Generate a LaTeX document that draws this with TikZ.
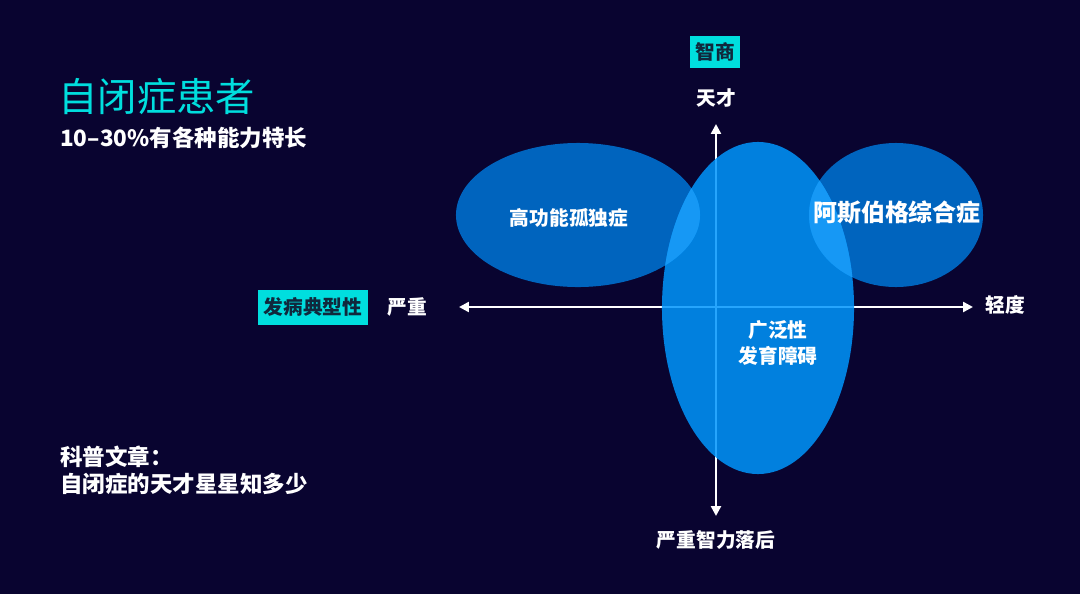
\documentclass[tikz,border=0pt]{standalone}
\usepackage{fontspec}
\setmainfont{Noto Sans CJK SC}
\usetikzlibrary{shapes.geometric, arrows.meta, positioning}
\definecolor{bgnavy}{RGB}{9,4,48}
\definecolor{aqua}{RGB}{0,222,222}
\definecolor{tagtext}{RGB}{16,40,60}
\definecolor{sideblue}{RGB}{0,100,190}
\definecolor{midblue}{RGB}{0,150,253}
\definecolor{overlapblue}{RGB}{22,152,245}

\begin{document}
\begin{tikzpicture}[
    x=0.025cm, y=-0.025cm,
    blob/.style={ellipse, fill=#1, inner sep=0pt, outer sep=0pt},
    tag/.style={rectangle, fill=aqua, text=tagtext, inner sep=0pt,
        font=\fontsize{14}{17}\selectfont\bfseries},
    axlabel/.style={text=white, inner sep=0pt, font=\fontsize{14}{17}\selectfont\bfseries},
    axis/.style={{Triangle[length=7pt,width=7pt]}-{Triangle[length=7pt,width=7pt]},
        white, line width=1.7pt},
]

% Background
\fill[bgnavy] (0,0) rectangle (1080,594);

% Title block
\node[anchor=west, inner sep=0pt, text=aqua, font=\fontsize{28}{32}\selectfont] (title) at (58,97) {自闭症患者};
\node[anchor=west, inner sep=0pt, text=white, font=\fontsize{16}{19}\selectfont\bfseries] (subtitle) at (60,138) {10--30\%有各种能力特长};

% Axes
\coordinate (ytop) at (716,124);
\coordinate (ybot) at (716,516);
\coordinate (xleft) at (459,307);
\coordinate (xright) at (973,307);
\draw[axis] (ybot) -- (ytop);
\draw[axis] (xleft) -- (xright);

% Ellipses
\node[blob=sideblue, minimum width=6.1cm, minimum height=3.6cm] (hfa) at (578,215) {};
\node[blob=sideblue, minimum width=4.35cm, minimum height=3.6cm] (asp) at (896,215) {};
\node[blob=midblue, fill opacity=0.85, minimum width=4.8cm, minimum height=8.3cm] (pdd) at (758,308) {};

% Overlaps
\begin{scope}
  \clip (pdd.center) ellipse [x radius=96, y radius=166];
  \fill[overlapblue] (hfa.center) ellipse [x radius=122, y radius=72];
  \fill[overlapblue] (asp.center) ellipse [x radius=87, y radius=72];
\end{scope}

% Ellipse labels
\node[axlabel] (hfatext) at (569,218) {高功能孤独症};
\node[axlabel, font=\fontsize{17}{20}\selectfont\bfseries] (asptext) at (897,213) {阿斯伯格综合症};
\node[axlabel, align=center, font=\fontsize{14}{18}\selectfont\bfseries] (pddtext) at (778,343) {广泛性\\发育障碍};

% Axis labels
\node[tag, minimum width=1.25cm, minimum height=0.8cm] (iq) at (715,52) {智商};
\node[axlabel] (genius) at (716,98) {天才};
\node[tag, minimum width=2.75cm, minimum height=0.875cm] (typical) at (313,307) {发病典型性};
\node[axlabel] (severe) at (407,307) {严重};
\node[axlabel] (mild) at (1005,305) {轻度};
\node[axlabel] (retard) at (716,540) {严重智力落后};

% Article note
\node[anchor=west, align=left, inner sep=0pt, text=white, font=\fontsize{16}{19}\selectfont\bfseries] (note) at (60,470) {科普文章：\\自闭症的天才星星知多少};

\end{tikzpicture}
\end{document}
